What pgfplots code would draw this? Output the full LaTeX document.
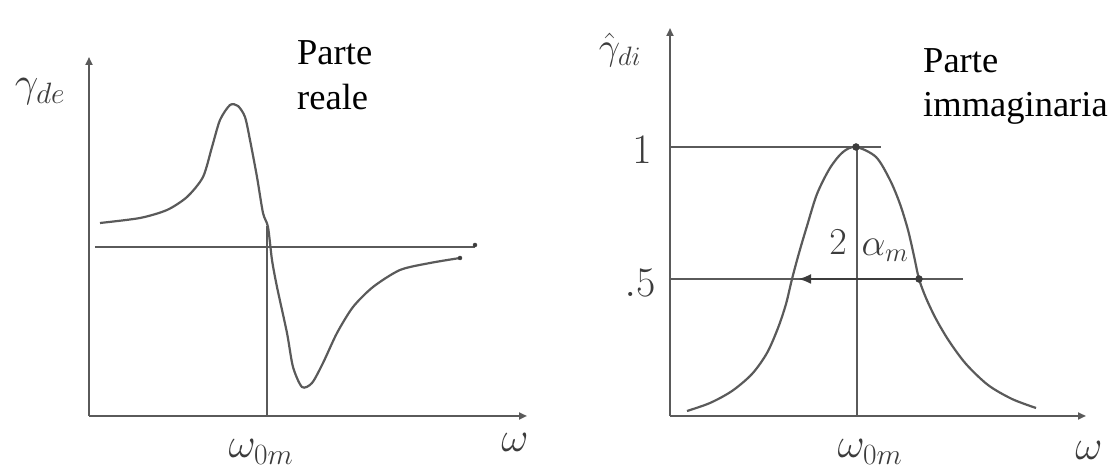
\RequirePackage{fix-cm}
\documentclass[border=0pt]{standalone}
\usepackage{pgfplots}
\pgfplotsset{compat=1.18}
\usetikzlibrary{arrows.meta}
\usepackage{fontspec}
\setmainfont{Liberation Serif}
\definecolor{pen}{RGB}{90,90,90}
\definecolor{ink}{RGB}{60,60,60}

\tikzset{
  hand/.style={text=ink, font=\fontsize{42bp}{48bp}\selectfont},
  handsm/.style={text=ink, font=\fontsize{38bp}{44bp}\selectfont},
}
\pgfplotsset{
  sketch/.style={
    x=1bp, y=1bp, xmin=0, ymin=0, clip=false,
    axis lines=left,
    axis line style={draw=pen, line width=2bp,
      -{Triangle[length=8bp,width=7bp]}},
    xtick=\empty, ytick=\empty,
  },
  ln/.style={draw=pen, line width=2.2bp, no markers},
  dot/.style={only marks, mark=*, mark options={draw=ink, fill=ink}},
}

\begin{document}
\begin{tikzpicture}[x=1bp,y=1bp]
\path (0,0) rectangle (1113,473);

% Real part
\begin{axis}[sketch, at={(89,57)}, anchor=south west, xmax=438, ymax=359]
  \addplot [ln] coordinates {(6,169) (386,169)};
  \addplot [ln] coordinates {(178,0) (178,190)};
  \addplot [ln, smooth, tension=0.45] coordinates {
    (11,193) (51,198) (78,206) (98,219) (114,239) (123,269) (131,296)
    (141,311) (149,310) (156,299) (161,276) (168,239) (174,203) (179,189)
    (183,156) (188,129) (198,83) (204,49) (213,29) (223,33) (234,53)
    (248,83) (264,109) (284,129) (311,146) (341,153) (371,158)};
  \addplot [dot, mark size=2bp] coordinates {(386,171) (371,158)};
  \node[hand] at (axis cs:-49,324) {$\gamma_{de}$};
  \node[hand] at (axis cs:172,-36) {$\omega_{0m}$};
  \node[hand] at (axis cs:426,-26) {$\omega$};
\end{axis}

% Imaginary part
\begin{axis}[sketch, at={(670,57)}, anchor=south west, xmax=416, ymax=388]
  \addplot [ln] coordinates {(0,269) (211,269)};
  \addplot [ln] coordinates {(187,0) (187,269)};
  \addplot [ln] coordinates {(0,137) (293,137)};
  \addplot [ln, smooth, tension=0.5] coordinates {
    (17,5) (40,13) (62,25) (82,42) (97,63) (108,88) (116,112) (122,137)
    (129,163) (137,190) (147,222) (160,248) (173,264) (186,269)
    (206,259) (220,236) (230,212) (238,186) (244,160) (249,137)
    (256,118) (266,97) (279,75) (296,52) (318,31) (342,17) (366,8)};
  \addplot [draw=ink, line width=2.8bp, no markers,
    -{Latex[length=13bp,width=10bp]}]
    coordinates {(249,137) (128,137)};
  \addplot [dot, mark size=3.5bp] coordinates {(249,137) (186,269)};
  \node[handsm] at (axis cs:-50,366) {$\hat{\gamma}_{di}$};
  \node[hand] at (axis cs:-28,266) {$1$};
  \node[hand] at (axis cs:-30,133) {$.5$};
  \node[handsm] at (axis cs:168,174) {$2$};
  \node[handsm] at (axis cs:215,166) {$\alpha_m$};
  \node[hand] at (axis cs:200,-36) {$\omega_{0m}$};
  \node[hand] at (axis cs:419,-34) {$\omega$};
\end{axis}

\begin{scope}[font=\fontsize{36.5bp}{44bp}\selectfont]
  \node[anchor=base west, inner sep=0pt] at (297,408) {Parte};
  \node[anchor=base west, inner sep=0pt] at (297,363) {reale};
  \node[anchor=base west, inner sep=0pt] at (923,400) {Parte};
  \node[anchor=base west, inner sep=0pt] at (923,356) {immaginaria};
\end{scope}
\end{tikzpicture}
\end{document}
